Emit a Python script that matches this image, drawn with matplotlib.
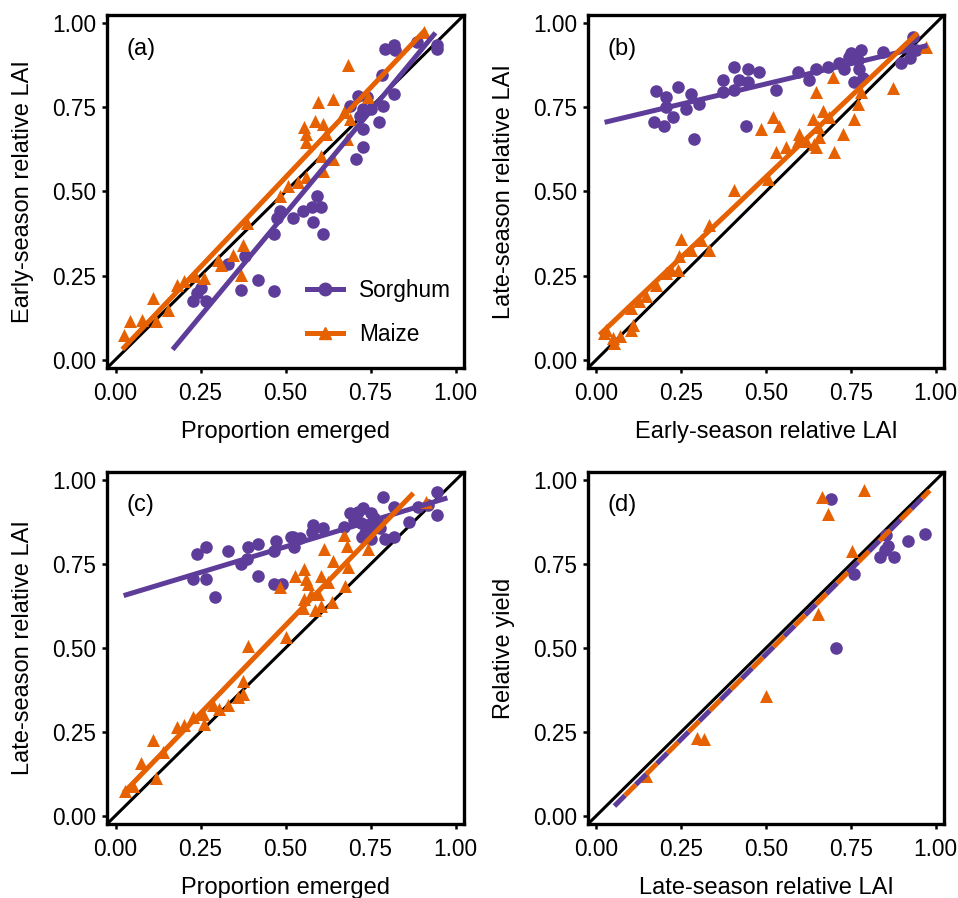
import matplotlib
matplotlib.use("Agg")
import matplotlib.pyplot as plt
from matplotlib.lines import Line2D
import numpy as np

plt.rcParams['font.family'] = ['Liberation Sans', 'DejaVu Sans']

PURPLE = '#5e3c99'
ORANGE = '#e66101'

# ---------------- data ----------------
# (a) proportion emerged vs early-season relative LAI
a_sor_x = [0.794, 0.818, 0.821, 0.888, 0.947, 0.947, 0.785, 0.818, 0.712, 0.691, 0.741, 0.729, 0.750,
           0.720, 0.788, 0.774, 0.729, 0.729, 0.706, 0.594, 0.603, 0.579, 0.550, 0.521, 0.582, 0.609,
           0.485, 0.476, 0.465, 0.382, 0.332, 0.418, 0.368, 0.465, 0.250, 0.241, 0.229, 0.265]
a_sor_y = [0.925, 0.936, 0.922, 0.945, 0.936, 0.925, 0.848, 0.789, 0.783, 0.753, 0.780, 0.744, 0.744,
           0.724, 0.753, 0.706, 0.685, 0.632, 0.597, 0.487, 0.455, 0.455, 0.443, 0.420, 0.410, 0.375,
           0.443, 0.420, 0.375, 0.307, 0.284, 0.236, 0.207, 0.204, 0.213, 0.198, 0.174, 0.174]
a_mai_x = [0.024, 0.044, 0.079, 0.109, 0.118, 0.153, 0.182, 0.200, 0.235, 0.259, 0.300, 0.309, 0.347,
           0.376, 0.368, 0.388, 0.485, 0.506, 0.538, 0.559, 0.603, 0.641, 0.609, 0.682, 0.685, 0.597,
           0.641, 0.588, 0.609, 0.553, 0.559, 0.559, 0.618, 0.671, 0.691, 0.744, 0.906]
a_mai_y = [0.074, 0.115, 0.118, 0.183, 0.115, 0.148, 0.222, 0.233, 0.248, 0.242, 0.295, 0.281, 0.310,
           0.340, 0.251, 0.405, 0.487, 0.517, 0.529, 0.544, 0.606, 0.597, 0.561, 0.656, 0.877, 0.765,
           0.774, 0.709, 0.700, 0.691, 0.671, 0.647, 0.671, 0.736, 0.715, 0.780, 0.975]

# (b) early-season vs late-season relative LAI
b_sor_x = [0.176, 0.241, 0.206, 0.279, 0.206, 0.226, 0.171, 0.200, 0.265, 0.303, 0.288, 0.374, 0.374,
           0.406, 0.406, 0.447, 0.421, 0.447, 0.479, 0.441, 0.529, 0.594, 0.626, 0.647, 0.682, 0.715,
           0.729, 0.744, 0.750, 0.771, 0.779, 0.774, 0.759, 0.785, 0.844, 0.897, 0.926, 0.918, 0.935,
           0.941]
b_sor_y = [0.798, 0.812, 0.780, 0.789, 0.750, 0.721, 0.706, 0.694, 0.744, 0.759, 0.656, 0.833, 0.795,
           0.869, 0.803, 0.863, 0.833, 0.827, 0.854, 0.694, 0.803, 0.854, 0.833, 0.863, 0.871, 0.883,
           0.863, 0.901, 0.913, 0.892, 0.922, 0.863, 0.827, 0.839, 0.916, 0.883, 0.898, 0.931, 0.960,
           0.922]
b_mai_x = [0.406, 0.506, 0.250, 0.332, 0.309, 0.279, 0.332, 0.244, 0.221, 0.241, 0.206, 0.176, 0.147,
           0.126, 0.103, 0.109, 0.103, 0.029, 0.021, 0.050, 0.068, 0.053, 0.971, 0.697, 0.874, 0.647,
           0.779, 0.668, 0.685, 0.771, 0.759, 0.638, 0.653, 0.521, 0.538, 0.485, 0.726, 0.597, 0.594,
           0.618, 0.656, 0.647, 0.641, 0.559, 0.529, 0.700]
b_mai_y = [0.503, 0.538, 0.360, 0.399, 0.355, 0.325, 0.325, 0.307, 0.266, 0.266, 0.257, 0.222, 0.189,
           0.174, 0.154, 0.103, 0.089, 0.089, 0.080, 0.065, 0.071, 0.050, 0.931, 0.842, 0.809, 0.795,
           0.795, 0.739, 0.721, 0.759, 0.715, 0.715, 0.691, 0.721, 0.694, 0.685, 0.671, 0.671, 0.650,
           0.650, 0.662, 0.632, 0.641, 0.632, 0.617, 0.617]

# (c) proportion emerged vs late-season relative LAI
c_sor_x = [0.241, 0.265, 0.332, 0.391, 0.418, 0.368, 0.388, 0.418, 0.229, 0.265, 0.294, 0.471, 0.465,
           0.465, 0.491, 0.515, 0.521, 0.544, 0.524, 0.582, 0.609, 0.579, 0.671, 0.691, 0.712, 0.729,
           0.750, 0.700, 0.721, 0.741, 0.759, 0.735, 0.750, 0.771, 0.779, 0.726, 0.750, 0.788, 0.818,
           0.794, 0.818, 0.862, 0.891, 0.918, 0.947, 0.947]
c_sor_y = [0.779, 0.800, 0.788, 0.800, 0.809, 0.750, 0.765, 0.715, 0.706, 0.706, 0.653, 0.818, 0.788,
           0.691, 0.691, 0.832, 0.832, 0.829, 0.800, 0.868, 0.859, 0.847, 0.862, 0.903, 0.906, 0.918,
           0.903, 0.882, 0.874, 0.868, 0.888, 0.844, 0.859, 0.874, 0.859, 0.832, 0.824, 0.950, 0.921,
           0.824, 0.832, 0.876, 0.921, 0.926, 0.965, 0.897]
c_mai_x = [0.029, 0.050, 0.074, 0.118, 0.109, 0.141, 0.182, 0.200, 0.229, 0.256, 0.259, 0.288, 0.303,
           0.332, 0.359, 0.374, 0.376, 0.391, 0.500, 0.550, 0.588, 0.603, 0.638, 0.553, 0.574, 0.597,
           0.676, 0.529, 0.553, 0.559, 0.565, 0.603, 0.624, 0.641, 0.685, 0.612, 0.682, 0.744, 0.671,
           0.912, 0.485]
c_mai_y = [0.074, 0.088, 0.156, 0.112, 0.226, 0.191, 0.265, 0.271, 0.294, 0.303, 0.274, 0.329, 0.318,
           0.329, 0.353, 0.362, 0.403, 0.506, 0.532, 0.618, 0.612, 0.626, 0.638, 0.647, 0.662, 0.662,
           0.685, 0.715, 0.735, 0.706, 0.691, 0.715, 0.697, 0.759, 0.741, 0.794, 0.803, 0.794, 0.838,
           0.935, 0.682]

# (d) late-season relative LAI vs relative yield
d_sor_x = [0.693, 0.855, 0.860, 0.850, 0.835, 0.879, 0.919, 0.968, 0.761, 0.706]
d_sor_y = [0.943, 0.837, 0.805, 0.793, 0.771, 0.771, 0.820, 0.840, 0.722, 0.500]
d_mai_x = [0.665, 0.790, 0.683, 0.754, 0.652, 0.499, 0.296, 0.318, 0.147]
d_mai_y = [0.949, 0.970, 0.901, 0.788, 0.601, 0.356, 0.231, 0.229, 0.117]

# fitted lines: (x start, x end), (intercept, slope)
a_sor_fit = [(0.168, 0.941), (-0.175, 1.219)]
a_mai_fit = [(0.020, 0.912), (0.009, 1.066)]
b_sor_fit = [(0.024, 0.976), (0.700, 0.240)]
b_mai_fit = [(0.009, 0.947), (0.065, 0.957)]
c_sor_fit = [(0.024, 0.976), (0.649, 0.306)]
c_mai_fit = [(0.024, 0.876), (0.043, 1.049)]
d_sor_fit = [(0.053, 0.983), (-0.025, 1.012)]
d_mai_fit = [(0.053, 0.983), (-0.025, 1.012)]

tick_vals = [0.0, 0.25, 0.5, 0.75, 1.0]
tick_labels = ['0.00', '0.25', '0.50', '0.75', '1.00']

# ---------------- figure ----------------
W, H = 958, 898
fig = plt.figure(figsize=(W / 100, H / 100), dpi=100)


def rect(l, r, t, b):
    return [l / W, 1 - b / H, (r - l) / W, (b - t) / H]


LINE_W = 3.6


def fit_line(ax, fit, color, dashed=False, phase=0):
    (x0, x1), (b0, b1) = fit
    xs = np.array([x0, x1])
    ls = (phase, (3, 3)) if dashed else '-'
    ax.plot(xs, b0 + b1 * xs, color=color, lw=LINE_W, ls=ls, zorder=4,
            solid_capstyle='butt', dash_capstyle='butt')


def panel(pos, tag, sx, sy, mx, my, sfit, mfit, xlabel, ylabel, dashed=False):
    ax = fig.add_axes(rect(*pos))
    ax.axline((0, 0), slope=1, color='black', lw=2.2, zorder=1)
    ax.scatter(sx, sy, s=82, marker='o', color=PURPLE, linewidths=0, zorder=2)
    ax.scatter(mx, my, s=88, marker='^', color=ORANGE, linewidths=0, zorder=3)
    fit_line(ax, sfit, PURPLE, dashed, 0)
    fit_line(ax, mfit, ORANGE, dashed, 3 if dashed else 0)
    ax.set_xlim(-0.025, 1.025)
    ax.set_ylim(-0.025, 1.025)
    ax.set_xticks(tick_vals, tick_labels)
    ax.set_yticks(tick_vals, tick_labels)
    ax.tick_params(length=3.8, width=1.8, labelsize=16.3, colors='black')
    ax.tick_params(axis='x', pad=6)
    ax.tick_params(axis='y', pad=4)
    for sp in ax.spines.values():
        sp.set_linewidth(2.4)
        sp.set_zorder(6)
    ax.set_xlabel(xlabel, fontsize=17, labelpad=12)
    ax.set_ylabel(ylabel, fontsize=17, labelpad=13)
    ax.text(0.055, 0.905, tag, transform=ax.transAxes, fontsize=17, va='center', ha='left')
    return ax


ax_a = panel((107, 464, 15, 368), '(a)', a_sor_x, a_sor_y, a_mai_x, a_mai_y, a_sor_fit, a_mai_fit,
             'Proportion emerged', 'Early-season relative LAI')
panel((588, 944, 15, 368), '(b)', b_sor_x, b_sor_y, b_mai_x, b_mai_y, b_sor_fit, b_mai_fit,
      'Early-season relative LAI', 'Late-season relative LAI')
panel((107, 464, 472, 824), '(c)', c_sor_x, c_sor_y, c_mai_x, c_mai_y, c_sor_fit, c_mai_fit,
      'Proportion emerged', 'Late-season relative LAI')
panel((588, 944, 472, 824), '(d)', d_sor_x, d_sor_y, d_mai_x, d_mai_y, d_sor_fit, d_mai_fit,
      'Late-season relative LAI', 'Relative yield', dashed=True)

handles = [Line2D([], [], color=PURPLE, lw=LINE_W, marker='o', ms=9),
           Line2D([], [], color=ORANGE, lw=LINE_W, marker='^', ms=9)]
ax_a.legend(handles, ['Sorghum', 'Maize'], loc='lower left', bbox_to_anchor=(0.502, 0.004),
            frameon=False, fontsize=16.3, handlelength=1.6, handletextpad=0.7, labelspacing=0.95)

fig.savefig('out.png', dpi=100)
